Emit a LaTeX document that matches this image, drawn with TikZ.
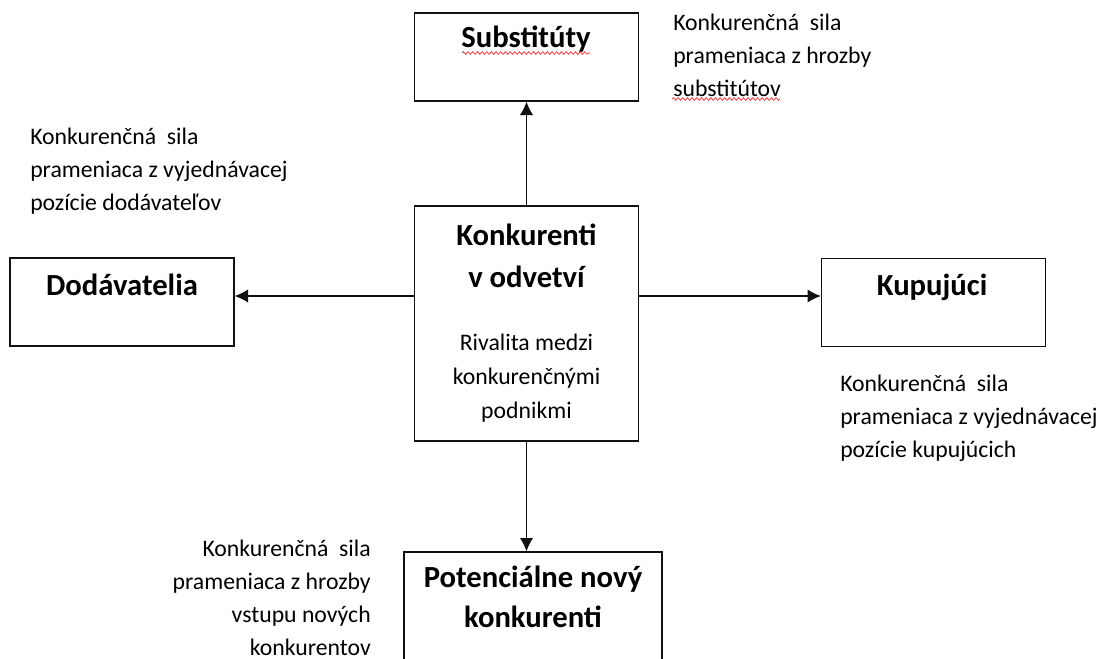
\documentclass[tikz,border=0pt]{standalone}
\usepackage{fontspec}
\setmainfont{Carlito}
\usetikzlibrary{arrows.meta,decorations.pathmorphing}
\definecolor{linka}{HTML}{111111}
\definecolor{chyba}{HTML}{E8232A}
\newcommand{\norm}{\fontsize{17.8}{24.75}\selectfont}
\newcommand{\tucne}{\fontsize{23}{31.5}\selectfont\bfseries}

\begin{document}
\begin{tikzpicture}[x=0.75pt,y=-0.75pt,
  box/.style={draw=linka,line width=1pt,minimum width=168pt,minimum height=66pt,inner sep=0pt},
  sipka/.style={-{Latex[length=10pt,width=10pt]},line width=1pt,linka},
  nadpis/.style={font=\tucne,inner sep=0pt,anchor=base},
  popis/.style={font=\norm,inner sep=0pt,anchor=base west,align=left},
  vlnka/.style={chyba,line width=0.5pt,decorate,decoration={snake,amplitude=1pt,segment length=3.5pt}}]
  \clip (0,0) rectangle (1105,658);
  \node[box] (subst) at (526.5,57) {};
  \node[box] (dod) at (122,302) {};
  \node[box,minimum height=176.25pt] (konk) at (526.5,323.5) {};
  \node[box] (kup) at (933.5,302.5) {};
  \node[box,minimum width=193.5pt,minimum height=111pt] (pot) at (533,626) {};
  \coordinate (mid) at (0,296);
  \draw[sipka] (konk.north) -- (konk.north |- subst.south);
  \draw[sipka] (konk.west |- mid) -- (dod.east |- mid);
  \draw[sipka] (konk.east |- mid) -- (kup.west |- mid);
  \draw[sipka] (konk.south) -- (konk.south |- pot.north);
  \node[nadpis] (t-subst) at (526,47) {Substitúty};
  \node[nadpis] (t-dod) at (122,295) {Dodávatelia};
  \node[nadpis] (t-konk) at (526.5,245) {Konkurenti};
  \node[nadpis] (t-odv) at (526.5,287) {v odvetví};
  \node[nadpis] (t-kup) at (932,295) {Kupujúci};
  \node[nadpis] (t-pot) at (533,587) {Potenciálne nový};
  \node[nadpis] (t-pot2) at (533,627) {konkurenti};
  \node[font=\norm,inner sep=0pt,anchor=base,align=center] (riv) at (526.5,418)
    {Rivalita medzi\\[0.75pt]konkurenčnými\\[0.75pt]podnikmi};
  \node[popis] (p-subst) at (673,96) {Konkurenčná\ \ sila\\prameniaca z hrozby\\substitútov};
  \node[popis] (p-dod) at (30,210) {Konkurenčná\ \ sila\\prameniaca z vyjednávacej\\pozície dodávateľov};
  \node[popis] (p-kup) at (840,457) {Konkurenčná\ \ sila\\prameniaca z vyjednávacej\\pozície kupujúcich};
  \node[popis,anchor=base east,align=right] (p-pot) at (371,655)
    {Konkurenčná\ \ sila\\prameniaca z hrozby\\vstupu nových\\konkurentov};
  \draw[vlnka] (462,53) -- (590,53);
  \draw[vlnka] (672,99) -- (780,99);
\end{tikzpicture}
\end{document}
